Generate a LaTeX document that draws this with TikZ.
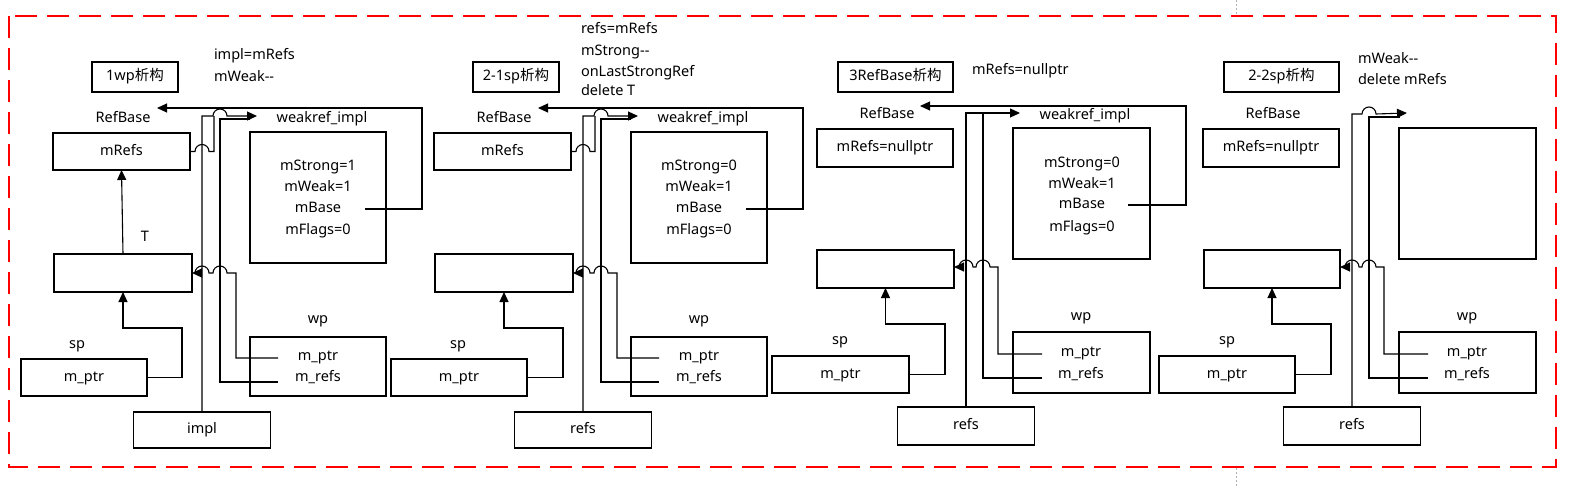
\documentclass[tikz,border=0pt]{standalone}
\usepackage{fontspec}
\setmainfont{Noto Sans}
\newfontfamily\cjk{Noto Sans CJK SC}
\usetikzlibrary{arrows.meta}
\begin{document}
\begin{tikzpicture}[x=1pt,y=-1pt,
  every node/.style={inner sep=0pt, outer sep=0pt, font=\fontsize{14.5}{17}\selectfont, text height=10.5pt, text depth=3pt},
  bx/.style 2 args={draw, line width=1.1pt, minimum width=#1pt, minimum height=#2pt},
  conn/.style={line width=1.1pt},
  arr/.style={-{Triangle[length=10pt,width=9pt]}},
  frame/.style={draw=red, line width=2pt, dash pattern=on 22pt off 10pt},
  pagebreak/.style={draw=gray!60, line width=0.6pt, dash pattern=on 2pt off 2pt}
]
\useasboundingbox (0,0) rectangle (1569,487);
\fill[white] (0,0) rectangle (1569,487);

% ---------------- Panel 1 ----------------
\node[bx={86}{30}] (ti1) at (135,77) {1wp{\cjk 析构}};
\node[anchor=west] (na1) at (214,56) {impl=mRefs};
\node[anchor=west] (nb1) at (214,78) {mWeak-{}-};
\node (rb1) at (123,119) {RefBase};
\node[bx={137}{37}] (mr1) at (121.5,151.5) {mRefs};
\node (wl1) at (322,119) {weakref\_impl};
\node[bx={136}{131}] (wk1) at (318,197.5) {};
\node (ws1) at (318,167) {mStrong=1};
\node (ww1) at (318,188) {mWeak=1};
\node (wb1) at (318,209) {mBase};
\node (wf1) at (318,231) {mFlags=0};
\node (tl1) at (145,238) {T};
\node[bx={138}{38}] (t1) at (123,273) {};
\node (spl1) at (77,345) {sp};
\node[bx={126}{37}] (sp1) at (84,377.5) {m\_ptr};
\node (wpl1) at (318,320) {wp};
\node[bx={136}{59}] (wp1) at (318,366.5) {};
\node (wpp1) at (318,357) {m\_ptr};
\node (wpr1) at (318,378) {m\_refs};
\node[bx={137}{36}] (im1) at (202,430) {impl};
\coordinate (wa1) at (257,116);
\coordinate (ra1) at (157,108);
\draw[conn,arr] (sp1.east) -| (182,328) -| (t1.south);
\draw[conn,arr] (t1.north) -- (mr1.south);
\draw[conn,arr] (365,209) -| (422,108) -- (ra1);
\draw[conn,arr] (im1.north) -- (202,116) -- (213,116) arc[start angle=180,end angle=360,radius=7] -- (wa1);
\draw[conn] (278,382) -| (220,119) -- (250,119);
\draw[conn] (mr1.east) -- (195,151.5) arc[start angle=180,end angle=360,radius=7] -- (214,151.5) -- (214,116);
\draw[conn,arr] (278,358) -| (236,273) -- (227,273) arc[start angle=0,end angle=-180,radius=7] -- (209,273) arc[start angle=0,end angle=-180,radius=7] -- (t1.east);

% ---------------- Panel 2 ----------------
\begin{scope}[shift={(381,0)}]
\node[bx={86}{30}] (ti2) at (135,77) {2-1sp{\cjk 析构}};
\node[anchor=west] (na2) at (200,30) {refs=mRefs};
\node[anchor=west] (nb2) at (200,52) {mStrong-{}-};
\node[anchor=west] (nc2) at (200,73) {onLastStrongRef};
\node[anchor=west] (nd2) at (200,92) {delete T};
\node (rb2) at (123,119) {RefBase};
\node[bx={137}{37}] (mr2) at (121.5,151.5) {mRefs};
\node (wl2) at (322,119) {weakref\_impl};
\node[bx={136}{131}] (wk2) at (318,197.5) {};
\node (ws2) at (318,167) {mStrong=0};
\node (ww2) at (318,188) {mWeak=1};
\node (wb2) at (318,209) {mBase};
\node (wf2) at (318,231) {mFlags=0};
\node[bx={138}{38}] (t2) at (123,273) {};
\node (spl2) at (77,345) {sp};
\node[bx={136}{37}] (sp2) at (78,377.5) {m\_ptr};
\node (wpl2) at (318,320) {wp};
\node[bx={136}{59}] (wp2) at (318,366.5) {};
\node (wpp2) at (318,357) {m\_ptr};
\node (wpr2) at (318,378) {m\_refs};
\node[bx={137}{36}] (rf2) at (202,430) {refs};
\coordinate (wa2) at (257,116);
\coordinate (ra2) at (157,108);
\draw[conn,arr] (sp2.east) -| (182,328) -| (t2.south);
\draw[conn,arr] (365,209) -| (422,108) -- (ra2);
\draw[conn,arr] (rf2.north) -- (202,116) -- (213,116) arc[start angle=180,end angle=360,radius=7] -- (wa2);
\draw[conn] (278,382) -| (220,119) -- (250,119);
\draw[conn] (mr2.east) -- (195,151.5) arc[start angle=180,end angle=360,radius=7] -- (214,151.5) -- (214,116);
\draw[conn,arr] (278,358) -| (236,273) -- (227,273) arc[start angle=0,end angle=-180,radius=7] -- (209,273) arc[start angle=0,end angle=-180,radius=7] -- (t2.east);
\end{scope}

% ---------------- Panel 3 ----------------
\begin{scope}[shift={(764,-4)}]
\node[bx={115}{30}] (ti3) at (131.5,81) {3RefBase{\cjk 析构}};
\node[anchor=west] (na3) at (208,75) {mRefs=nullptr};
\node (rb3) at (123,119) {RefBase};
\node[bx={136}{38}] (mr3) at (121,152) {mRefs=nullptr};
\node (wl3) at (321,120) {weakref\_impl};
\node[bx={137}{131}] (wk3) at (317.5,197.5) {};
\node (ws3) at (318,168) {mStrong=0};
\node (ww3) at (318,189) {mWeak=1};
\node (wb3) at (318,209) {mBase};
\node (wf3) at (318,232) {mFlags=0};
\node[bx={137}{38}] (t3) at (121.5,273) {};
\node (spl3) at (76,345) {sp};
\node[bx={137}{37}] (sp3) at (76.5,378.5) {m\_ptr};
\node (wpl3) at (317,321) {wp};
\node[bx={137}{61}] (wp3) at (317.5,366.5) {};
\node (wpp3) at (317,357) {m\_ptr};
\node (wpr3) at (317,379) {m\_refs};
\node[bx={137}{38}] (rf3) at (202,430) {refs};
\coordinate (wa3) at (256,117);
\coordinate (ra3) at (156,110);
\coordinate (hy3) at (0,271);
\draw[conn,arr] (sp3.east) -| (181,328) -| (t3.south);
\draw[conn,arr] (364,209) -| (422,110) -- (ra3);
\draw[conn,arr] (rf3.north) -- (202,117) -- (wa3);
\draw[conn] (278,382) -| (219,117);
\draw[conn,arr] (278,358) -| (234,271) -- (226,271) arc[start angle=0,end angle=-180,radius=7] -- (209,271) arc[start angle=0,end angle=-180,radius=7] -- (t3.east |- hy3);
\end{scope}

% ---------------- Panel 4 ----------------
\begin{scope}[shift={(1150,-4)}]
\node[bx={115}{30}] (ti4) at (131.5,81) {2-2sp{\cjk 析构}};
\node[anchor=west] (na4) at (208,64) {mWeak-{}-};
\node[anchor=west] (nb4) at (208,85) {delete mRefs};
\node (rb4) at (123,119) {RefBase};
\node[bx={136}{38}] (mr4) at (121,152) {mRefs=nullptr};
\node[bx={137}{131}] (wk4) at (317.5,197.5) {};
\node[bx={136}{38}] (t4) at (122,273) {};
\node (spl4) at (77,345) {sp};
\node[bx={136}{37}] (sp4) at (77,378.5) {m\_ptr};
\node (wpl4) at (317,321) {wp};
\node[bx={137}{61}] (wp4) at (317.5,366.5) {};
\node (wpp4) at (317,357) {m\_ptr};
\node (wpr4) at (317,379) {m\_refs};
\node[bx={137}{38}] (rf4) at (202,430) {refs};
\coordinate (wa4) at (257,117);
\coordinate (hy4) at (0,271);
\draw[conn,arr] (sp4.east) -| (181,328) -| (t4.south);
\draw[conn,arr] (rf4.north) -- (202,118) -- (212,118) arc[start angle=180,end angle=360,radius=7] -- (wa4);
\draw[conn] (278,382) -| (219,121) -- (250,121);
\draw[conn,arr] (278,358) -| (234,271) -- (226,271) arc[start angle=0,end angle=-180,radius=7] -- (209,271) arc[start angle=0,end angle=-180,radius=7] -- (t4.east |- hy4);
\end{scope}

% ---------------- frame ----------------
\draw[frame] (9,16) rectangle (1556,467);
\draw[pagebreak] (1236,0) -- (1236,15);
\draw[pagebreak] (1236,468) -- (1236,487);
\end{tikzpicture}
\end{document}
